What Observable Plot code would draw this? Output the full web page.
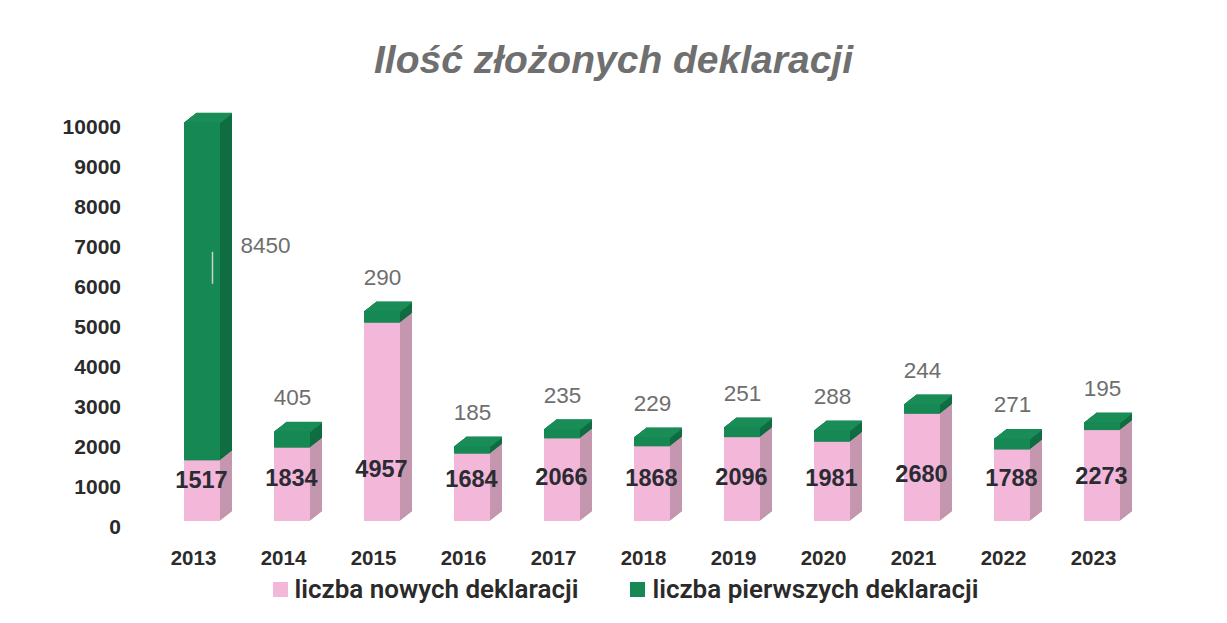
<!DOCTYPE html>
<html>
<head>
<meta charset="utf-8">
<script src="https://cdn.jsdelivr.net/npm/d3@7"></script>
<script src="https://cdn.jsdelivr.net/npm/@observablehq/plot@0.6"></script>
<style>
  html, body { margin: 0; padding: 0; background: #fff; }
  #wrap { position: relative; width: 1227px; height: 623px; overflow: hidden; background: #fff; }
  #title { position: absolute; top: 38px; left: 0; width: 1227px; text-align: center; padding-left: 0px; box-sizing: border-box;
    font: italic bold 39px "Liberation Sans", Arial, sans-serif; color: #6f6f6f; }
  #chart { position: absolute; top: 100px; left: 0; }
  #legend { position: absolute; top: 574px; left: 0; width: 1227px; display: flex; justify-content: center; gap: 52px;
    font: 600 26px "Liberation Sans Narrow", "Roboto", sans-serif; color: #2a2a2a; padding-left: 24px; box-sizing: border-box; }
  #legend span.item { display: flex; align-items: center; }
  #legend i { display: inline-block; width: 15px; height: 15px; margin-right: 7px; }
</style>
</head>
<body>
<div id="wrap">
  <div id="title">Ilość złożonych deklaracji</div>
  <div id="chart"></div>
  <div id="legend"></div>
</div>
<script>
const years = ["2013","2014","2015","2016","2017","2018","2019","2020","2021","2022","2023"];
const nowe = [1517, 1834, 4957, 1684, 2066, 1868, 2096, 1981, 2680, 1788, 2273];
const pierwsze = [8450, 405, 290, 185, 235, 229, 251, 288, 244, 271, 195];
const yTicks = [0,1000,2000,3000,4000,5000,6000,7000,8000,9000,10000];
const seriesNames = ["liczba nowych deklaracji", "liczba pierwszych deklaracji"];
const colors = {pinkFront: "#f3b8d9", pinkSide: "#c597ae", greenFront: "#168853", greenSide: "#0f6d41", greenTop: "#1a8d57"};

const data = years.map((y, i) => ({year: y, nowe: nowe[i], pierwsze: pierwsze[i], total: nowe[i] + pierwsze[i]}));

const inL = 36, inR = 18;
const depth = 12, slope = 0.78;
const font = "Liberation Sans, Arial, sans-serif";
const marks = [];
for (let k = 1; k <= depth; k++) {
  marks.push(Plot.barY(data, {x: "year", y1: 0, y2: "nowe", fill: colors.pinkSide, insetLeft: inL, insetRight: inR, dx: k, dy: -k * slope}));
}
for (let k = 1; k <= depth; k++) {
  marks.push(Plot.barY(data, {x: "year", y1: "nowe", y2: "total", fill: colors.greenSide, insetLeft: inL, insetRight: inR, dx: k, dy: -k * slope}));
}
for (let k = 0; k <= depth; k++) {
  marks.push(Plot.tickY(data, {x: "year", y: "total", stroke: colors.greenTop, strokeWidth: 1.6, insetLeft: inL, insetRight: inR, dx: k, dy: -k * slope}));
}
marks.push(Plot.barY(data, {x: "year", y1: 0, y2: "nowe", fill: colors.pinkFront, insetLeft: inL, insetRight: inR}));
marks.push(Plot.barY(data, {x: "year", y1: "nowe", y2: "total", fill: colors.greenFront, insetLeft: inL, insetRight: inR}));

marks.push(Plot.text(data, {x: "year", y: d => Math.min(850 + 0.12 * d.nowe, 1300), text: d => String(d.nowe),
  dx: 8, fontSize: 23.5, fontWeight: 600, fill: "#2b2b33", fontFamily: font}));
marks.push(Plot.text(data.filter(d => d.year !== "2013"), {x: "year", y: "total", text: d => String(d.pierwsze),
  dx: 9, dy: -34, fontSize: 22.5, fill: "#6e6e6e", fontFamily: font}));
const d13 = data.filter(d => d.year === "2013");
marks.push(Plot.link(d13, {x1: "year", x2: "year", y1: d => d.nowe + d.pierwsze / 2 + 200, y2: d => d.nowe + d.pierwsze / 2 + 1000,
  dx: 19, stroke: "#cfcfcf", strokeWidth: 1.5}));
marks.push(Plot.text(d13, {x: "year", y: d => d.nowe + d.pierwsze / 2, text: d => String(d.pierwsze),
  dx: 72, dy: -46, fontSize: 22.5, fill: "#6e6e6e", fontFamily: font}));

marks.push(Plot.axisY({ticks: yTicks, tickSize: 0, tickPadding: 22, tickFormat: d => String(d), fontSize: 21, fontWeight: "bold", fill: "#2b2b2b", dy: 6, fontFamily: font}));
marks.push(Plot.axisX({tickSize: 0, tickPadding: 29, fontSize: 20.5, fontWeight: "bold", fill: "#2b2b2b", fontFamily: font}));

const chart = Plot.plot({
  width: 1227,
  height: 470,
  marginLeft: 142.5,
  marginRight: 84.5,
  marginTop: 21,
  marginBottom: 49,
  x: {type: "band", domain: years, padding: 0, label: null},
  y: {domain: [0, 10000], label: null},
  style: {background: "#fff", fontFamily: font, overflow: "visible"},
  marks
});
document.getElementById("chart").appendChild(chart);

const legend = document.getElementById("legend");
[[seriesNames[0], colors.pinkFront], [seriesNames[1], colors.greenFront]].forEach(([name, c]) => {
  const s = document.createElement("span");
  s.className = "item";
  const i = document.createElement("i");
  i.style.background = c;
  s.appendChild(i);
  s.appendChild(document.createTextNode(name));
  legend.appendChild(s);
});
</script>
</body>
</html>
